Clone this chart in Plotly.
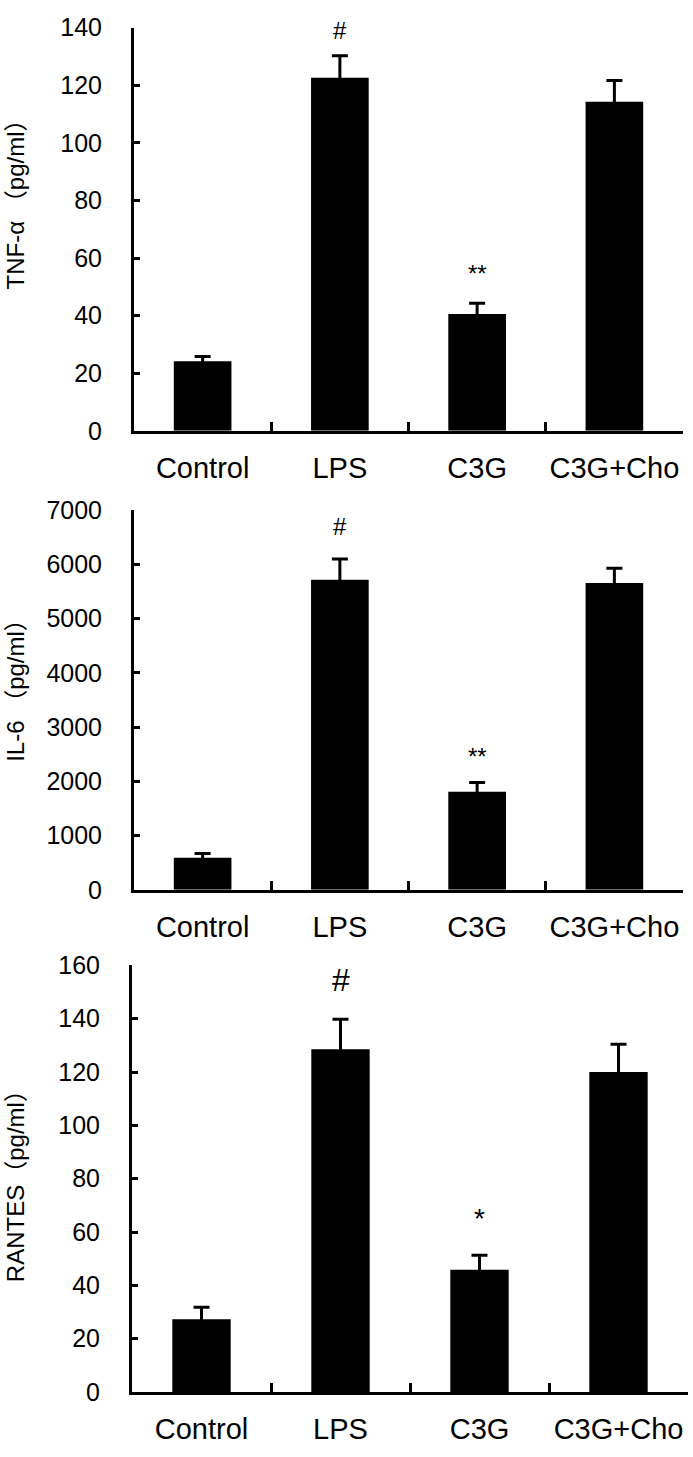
import plotly.graph_objects as go

groups = ["Control", "LPS", "C3G", "C3G+Cho"]

tnf_mean = [24.2, 122.6, 40.6, 114.3]
tnf_err = [1.6, 7.7, 3.7, 7.4]
tnf_sig = ["", "#", "**", ""]
tnf_sig_y = [None, 139, 54.5, None]

il6_mean = [590, 5720, 1810, 5660]
il6_err = [80, 380, 170, 270]
il6_sig = ["", "#", "**", ""]
il6_sig_y = [None, 6700, 2450, None]

rantes_mean = [27.3, 128.5, 45.8, 120.0]
rantes_err = [4.5, 11.3, 5.5, 10.4]
rantes_sig = ["", "#", "*", ""]
rantes_sig_y = [None, 154.5, 65.0, None]

titles = ["TNF-α （pg/ml）", "IL-6 （pg/ml）", "RANTES（pg/ml）"]
y_ranges = [[0, 140], [0, 7000], [0, 160]]
y_dticks = [20, 1000, 20]

W, H = 693, 1457
FONT = "Liberation Sans, Arial, Noto Sans CJK SC, sans-serif"

panels = [
    dict(mean=tnf_mean, err=tnf_err, sig=tnf_sig, sig_y=tnf_sig_y,
         ypx=(14, 425), xpx=(134, 683), title_pos=(15, 188), sig_size=(24, 24)),
    dict(mean=il6_mean, err=il6_err, sig=il6_sig, sig_y=il6_sig_y,
         ypx=(506, 893), xpx=(134, 683), title_pos=(16, 684), sig_size=(24, 24)),
    dict(mean=rantes_mean, err=rantes_err, sig=rantes_sig, sig_y=rantes_sig_y,
         ypx=(970, 1405), xpx=(132, 688), title_pos=(15, 1189), sig_size=(32, 28)),
]

fig = go.Figure()
annotations = []
layout = {}
for i, p in enumerate(panels):
    n = "" if i == 0 else str(i + 1)
    fig.add_trace(go.Bar(
        x=groups, y=p["mean"], xaxis="x" + n, yaxis="y" + n,
        marker=dict(color="black", line=dict(color="black", width=0)),
        error_y=dict(type="data", symmetric=True, array=p["err"],
                     color="black", thickness=3, width=8),
        showlegend=False,
    ))
    y0, y1 = p["ypx"]
    x0, x1 = p["xpx"]
    layout["xaxis" + n] = dict(
        domain=[x0 / W, x1 / W], anchor="y" + n,
        showline=True, linecolor="black", linewidth=3,
        ticks="inside", tickson="boundaries", ticklen=9, tickwidth=3,
        tickcolor="black", showgrid=False, zeroline=False,
        tickangle=0,
        tickfont=dict(family=FONT, size=29, color="black"),
        ticklabelstandoff=9, fixedrange=True,
    )
    layout["yaxis" + n] = dict(
        domain=[1 - y1 / H, 1 - y0 / H], anchor="x" + n,
        range=y_ranges[i], dtick=y_dticks[i], tick0=0,
        showline=True, linecolor="black", linewidth=3,
        ticks="inside", ticklen=6, tickwidth=3, tickcolor="black",
        showgrid=False, zeroline=False,
        tickfont=dict(family=FONT, size=25, color="black"),
        ticklabelstandoff=24, fixedrange=True,
    )
    tx, ty = p["title_pos"]
    annotations.append(dict(
        text=titles[i], xref="paper", yref="paper", x=tx / W, y=1 - ty / H,
        textangle=-90, showarrow=False, xanchor="center", yanchor="middle",
        font=dict(family=FONT, size=24, color="black"),
    ))
    for g, s, sy in zip(groups, p["sig"], p["sig_y"]):
        if s:
            annotations.append(dict(
                text=s, xref="x" + n, yref="y" + n, x=g, y=sy,
                showarrow=False, xanchor="center", yanchor="middle",
                font=dict(family=FONT, size=p["sig_size"][0] if s == "#" else p["sig_size"][1], color="black"),
            ))

fig.update_layout(
    width=W, height=H,
    margin=dict(l=0, r=0, t=0, b=0),
    paper_bgcolor="white", plot_bgcolor="white",
    bargap=0.58,
    annotations=annotations,
    **layout,
)

fig.write_html(
    "out.html",
    config={"displayModeBar": False},
    post_script="document.body.style.margin='0';document.body.style.overflow='hidden';",
)
